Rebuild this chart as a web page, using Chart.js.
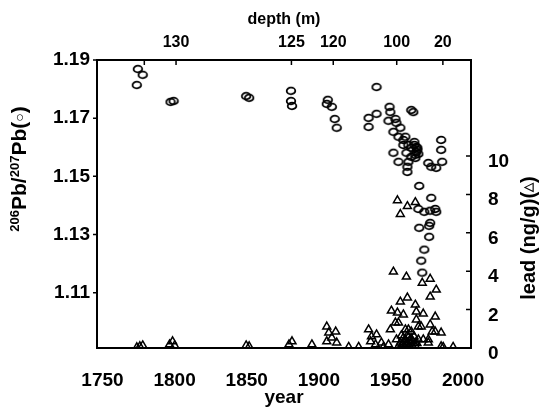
<!DOCTYPE html>
<html><head><meta charset="utf-8">
<script src="https://cdn.jsdelivr.net/npm/chart.js@4.4.1/dist/chart.umd.min.js"></script>
<style>html,body{margin:0;padding:0;background:#fff}canvas{display:block}</style>
</head><body>
<canvas id="c" width="543" height="418"></canvas>
<script>
// 206Pb/207Pb ratio (circles, left axis)
const ratioYears = [1774.5,1777.9,1773.8,1797.2,1799.3,1849.6,1851.7,1880.7,1880.7,1881.4,
  1906.2,1905.5,1909.0,1911.0,1912.4,1940.0,1934.5,1940.0,1934.5,
  1949.0,1949.6,1948.3,1953.1,1953.8,1951.7,1956.5,1955.2,1960.0,1958.6,1962.1,
  1964.1,1967.6,1968.3,1966.9,1951.7,1960.7,1964.1,1955.2,1962.1,1961.4,1961.4,
  1964.1,1965.5,1975.9,1977.9,1981.4,1984.8,1984.8,1985.5,1969.6,1977.9,
  1969.0,1973.1,1977.2,1980.7,1981.4,1969.6,1977.2,1976.5,1976.5,1973.1,1971.0,1971.7,
  1966.2,1967.6,1958.6,1966.2,1968.3,1966.9,1969.0];
const ratioValues = [1.1869,1.1849,1.1814,1.1756,1.1759,1.1776,1.1770,1.1794,1.1759,1.1742,
  1.1763,1.1749,1.1739,1.1697,1.1667,1.1807,1.1701,1.1715,1.1670,
  1.1739,1.1721,1.1691,1.1697,1.1684,1.1653,1.1667,1.1636,1.1636,1.1608,1.1608,
  1.1598,1.1601,1.1591,1.1574,1.1581,1.1581,1.1567,1.1550,1.1550,1.1533,1.1515,
  1.1728,1.1721,1.1546,1.1533,1.1529,1.1625,1.1591,1.1550,1.1467,1.1426,
  1.1388,1.1378,1.1382,1.1388,1.1378,1.1323,1.1340,1.1330,1.1292,1.1248,1.1210,1.1169,
  1.1618,1.1584,1.1625,1.1608,1.1598,1.1563,1.1577];
// lead concentration (triangles, right axis)
const leadYears = [1775.9,1773.8,1777.9,1796.5,1798.6,1800.0,1849.6,1851.7,1879.3,1881.4,
  1895.2,1905.5,1911.7,1906.9,1909.0,1912.4,1905.5,1934.5,1936.5,1940.0,1935.9,1939.3,1943.4,1948.3,
  1954.5,1961.4,1966.9,1956.5,1951.7,1960.7,1971.7,1977.2,1981.4,1977.2,1956.5,1961.4,1966.9,
  1950.3,1954.5,1958.6,1967.6,1972.4,1980.7,1953.1,1949.6,1962.1,1967.6,1969.0,1977.2,1978.6,1984.8,
  1955.2,1960.0,1964.1,1971.0,1980.7,1969.0,1975.9,1984.8,1972.4,1975.9,1953.8,1956.5,1958.6,
  1960.7,1962.8,1964.8,1966.9,1955.2,1959.3,1963.4,1957.2,1961.4,1920.7,1927.6,1944.8,1986.2,1993.1,
  1957.0,1959.0,1961.0,1963.0,1965.0,1967.0,1960.0,1962.0,1964.0,1958.0,1966.0,1968.0];
const leadValues = [0.08,0.03,0.13,0.18,0.34,0.13,0.13,0.08,0.18,0.34,
  0.18,1.11,0.85,0.80,0.54,0.28,0.34,0.96,0.60,0.70,0.34,0.18,0.28,0.18,
  7.69,7.38,7.59,6.97,3.97,3.71,3.39,3.60,3.03,2.67,2.41,2.62,2.25,
  1.94,1.84,1.74,1.89,1.79,1.63,1.32,0.96,0.96,1.48,1.11,1.22,0.85,0.80,
  1.32,0.96,0.85,1.11,0.85,0.44,0.44,0.08,0.44,0.28,0.44,0.28,0.54,
  0.18,0.39,0.13,0.28,0.08,0.08,0.23,0.65,0.65,0.05,0.05,0.05,0.05,0.05,
  0.10,0.30,0.15,0.05,0.35,0.10,0.45,0.55,0.50,0.20,0.60,0.25];
const yearTicks = [1750,1800,1850,1900,1950,2000];
const ratioTicks = [1.11,1.13,1.15,1.17,1.19];
const leadTicks = [0,2,4,6,8,10];
const depthTickYears = [1779,1801,1881,1910,1954,1986];
const depthTickLabels = ['','130','125','120','100','20'];

const F = '"Liberation Sans", Arial, Helvetica, sans-serif';
const BLACK = '#000';

function ellipseMarker(){
  const c = document.createElement('canvas'); c.width = 12; c.height = 10;
  const g = c.getContext('2d');
  g.strokeStyle = BLACK; g.lineWidth = 1.8;
  g.beginPath(); g.ellipse(6,5,4.3,3.3,0,0,Math.PI*2); g.stroke();
  return c;
}
const circ = ellipseMarker();

function setTicks(arr){ return s => { s.ticks = arr.map(v => ({value:v})); }; }

const framePlugin = {
  id:'frame',
  afterDraw(chart){
    const {ctx, chartArea:a, scales} = chart;
    ctx.save();
    ctx.strokeStyle = BLACK; ctx.lineWidth = 2;
    ctx.strokeRect(a.left, a.top, a.right-a.left, a.bottom-a.top);
    ctx.lineWidth = 1.5;
    ctx.beginPath();
    ratioTicks.forEach(v => { const y = scales.y.getPixelForValue(v); ctx.moveTo(a.left-4,y); ctx.lineTo(a.left,y); });
    leadTicks.forEach(v => { const y = scales.y2.getPixelForValue(v); ctx.moveTo(a.right-5,y); ctx.lineTo(a.right,y); });
    depthTickYears.forEach(v => { const x = scales.x2.getPixelForValue(v); ctx.moveTo(x,a.top); ctx.lineTo(x,a.top+5); });
    ctx.stroke();
    // titles
    ctx.fillStyle = BLACK;
    ctx.textAlign = 'center'; ctx.textBaseline = 'alphabetic';
    ctx.font = `bold 16px ${F}`;
    ctx.fillText('depth (m)', (a.left+a.right)/2, 24);
    ctx.font = `bold 19px ${F}`;
    ctx.fillText('year', (a.left+a.right)/2, 403);
    drawParts(ctx, [
      {t:'206', s:13, dy:-7},{t:'Pb', s:21, dy:0},{t:'/', s:21, dy:0},
      {t:'207', s:13, dy:-7},{t:'Pb', s:21, dy:0},{t:'(', s:21, dy:0},{t:'○', s:14, dy:-2},{t:')', s:21, dy:0}
    ], 26, 169);
    drawParts(ctx, [
      {t:'lead (ng/g)(', s:20, dy:0},{t:'△', s:12, dy:-3},{t:')', s:20, dy:0}
    ], 535, 238);
    ctx.restore();
  }
};
function drawParts(ctx, parts, bx, cy){
  ctx.save(); ctx.translate(bx, cy); ctx.rotate(-Math.PI/2);
  ctx.textAlign = 'left'; ctx.textBaseline = 'alphabetic';
  let total = 0;
  parts.forEach(p => { ctx.font = `bold ${p.s}px ${F}`; p.w = ctx.measureText(p.t).width; total += p.w; });
  let x = -total/2;
  parts.forEach(p => { ctx.font = `bold ${p.s}px ${F}`; ctx.fillText(p.t, x, p.dy); x += p.w; });
  ctx.restore();
}

const tickFont = (size, lineHeight) => ({family:F, size, weight:'bold', lineHeight: lineHeight || 1.2});

new Chart(document.getElementById('c'), {
  type:'scatter',
  data:{datasets:[
    {label:'206Pb/207Pb', data: ratioYears.map((x,i)=>({x, y:ratioValues[i]})), xAxisID:'x', yAxisID:'y',
      pointStyle: circ, pointRadius:4, pointHoverRadius:4, borderColor:BLACK, backgroundColor:'transparent'},
    {label:'lead', data: leadYears.map((x,i)=>({x, y:leadValues[i]})), xAxisID:'x', yAxisID:'y2',
      pointStyle:'triangle', pointRadius:4.6, pointHoverRadius:4.6, borderWidth:1.5, borderColor:BLACK, backgroundColor:'transparent'}
  ]},
  plugins:[framePlugin],
  options:{
    responsive:false, animation:false, devicePixelRatio:1,
    layout:{padding:0},
    plugins:{legend:{display:false}, tooltip:{enabled:false}},
    scales:{
      x:{type:'linear', position:'bottom', min:1746.2, max:2005.5, afterBuildTicks:setTicks(yearTicks),
        ticks:{font:tickFont(19), color:BLACK, padding:21, maxRotation:0, autoSkip:false, callback:v=>String(v)},
        grid:{display:false, drawTicks:false}, border:{display:false}, afterFit:s=>{s.height=70;}},
      x2:{type:'linear', position:'top', min:1746.2, max:2005.5, afterBuildTicks:setTicks(depthTickYears),
        ticks:{font:tickFont(16), color:BLACK, padding:8, maxRotation:0, autoSkip:false, callback:(v,i)=>depthTickLabels[i]},
        grid:{display:false, drawTicks:false}, border:{display:false}, afterFit:s=>{s.height=60;}},
      y:{type:'linear', position:'left', min:1.091, max:1.19, afterBuildTicks:setTicks(ratioTicks),
        ticks:{font:tickFont(19), color:BLACK, padding:7, callback:v=>v.toFixed(2)},
        grid:{display:false, drawTicks:false}, border:{display:false}, afterFit:s=>{s.width=97;}},
      y2:{type:'linear', position:'right', min:0, max:15, afterBuildTicks:setTicks(leadTicks),
        ticks:{font:tickFont(19, 0.6), color:BLACK, padding:17, callback:v=>['', String(v)]},
        grid:{display:false, drawTicks:false}, border:{display:false}, afterFit:s=>{s.width=72;}}
    }
  }
});
</script>
</body></html>
